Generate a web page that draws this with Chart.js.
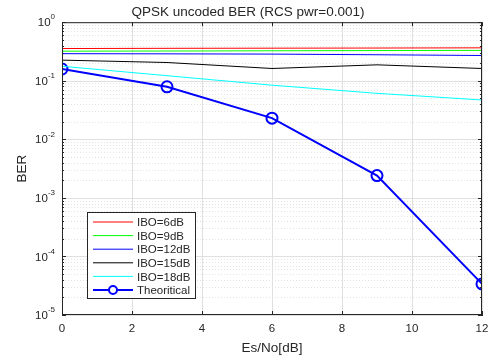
<!DOCTYPE html>
<html>
<head>
<meta charset="utf-8">
<script src="https://cdn.jsdelivr.net/npm/chart.js@4.4.1/dist/chart.umd.min.js"></script>
<style>
    html, body { margin: 0; padding: 0; background: #fff; }
    #wrap { width: 491px; height: 356px; }
</style>
</head>
<body>
<div id="wrap"><canvas id="berChart" width="491" height="356"></canvas></div>
<script>
// Data
const esNo = [0, 3, 6, 9, 12];
const ibo6 = [0.355, 0.358, 0.36, 0.362, 0.365];
const ibo9 = [0.32, 0.322, 0.325, 0.328, 0.33];
const ibo12 = [0.29, 0.288, 0.285, 0.278, 0.27];
const ibo15 = [0.225, 0.205, 0.162, 0.187, 0.162];
const ibo18 = [0.177, 0.122, 0.084, 0.061, 0.047];
const theory = [0.1587, 0.0789, 0.0230, 0.0024, 3.4e-5];
const yDecades = [0, -1, -2, -3, -4, -5];
const xTicks = [0, 2, 4, 6, 8, 10, 12];

const FONT = '"Liberation Sans", Arial, sans-serif';
const INK = '#262626';
const pts = arr => arr.map((v, i) => ({ x: esNo[i], y: v }));

const plainLine = (label, data, color) => ({
    label: label,
    data: pts(data),
    borderColor: color,
    backgroundColor: color,
    borderWidth: 1,
    pointRadius: 0,
    tension: 0
});

// Log grid (solid decades, dotted minors) drawn under the data
const gridPlugin = {
    id: 'logGrid',
    beforeDatasetsDraw(chart) {
        const ctx = chart.ctx;
        const a = chart.chartArea;
        const y = chart.scales.y;
        ctx.save();
        ctx.lineWidth = 1;
        yDecades.forEach(k => {
            if (k === -5) return;
            for (let m = 2; m <= 9; m++) {
                const py = Math.round(y.getPixelForValue(m * Math.pow(10, k - 1))) + 0.5;
                ctx.strokeStyle = '#e3e3e3';
                ctx.setLineDash([1, 2]);
                ctx.beginPath();
                ctx.moveTo(a.left, py);
                ctx.lineTo(a.right, py);
                ctx.stroke();
                // small inward ticks
                ctx.setLineDash([]);
                ctx.strokeStyle = INK;
                ctx.beginPath();
                ctx.moveTo(a.left, py); ctx.lineTo(a.left + 2, py);
                ctx.moveTo(a.right, py); ctx.lineTo(a.right - 2, py);
                ctx.stroke();
            }
        });
        ctx.setLineDash([]);
        yDecades.forEach(k => {
            const py = Math.round(y.getPixelForValue(Math.pow(10, k))) + 0.5;
            ctx.strokeStyle = '#e0e0e0';
            ctx.beginPath();
            ctx.moveTo(a.left, py);
            ctx.lineTo(a.right, py);
            ctx.stroke();
            ctx.strokeStyle = INK;
            ctx.beginPath();
            ctx.moveTo(a.left, py); ctx.lineTo(a.left + 4, py);
            ctx.moveTo(a.right, py); ctx.lineTo(a.right - 4, py);
            ctx.stroke();
        });
        const x = chart.scales.x;
        xTicks.forEach(v => {
            const px = Math.round(x.getPixelForValue(v)) + 0.5;
            ctx.strokeStyle = INK;
            ctx.beginPath();
            ctx.moveTo(px, a.bottom); ctx.lineTo(px, a.bottom - 4);
            ctx.moveTo(px, a.top); ctx.lineTo(px, a.top + 4);
            ctx.stroke();
        });
        ctx.restore();
    }
};

// Superscript tick labels, frame and legend box inside plot
const decorPlugin = {
    id: 'decor',
    afterDraw(chart) {
        const ctx = chart.ctx;
        const y = chart.scales.y;
        const a = chart.chartArea;
        ctx.save();
        ctx.strokeStyle = INK;
        ctx.lineWidth = 1;
        ctx.strokeRect(a.left + 0.5, a.top + 0.5, a.right - a.left - 1, a.bottom - a.top - 1);

        ctx.fillStyle = INK;
        yDecades.forEach(k => {
            const py = y.getPixelForValue(Math.pow(10, k));
            const exp = String(k);
            ctx.font = '8px ' + FONT;
            const ew = ctx.measureText(exp).width;
            ctx.textAlign = 'right';
            ctx.textBaseline = 'middle';
            ctx.fillText(exp, a.left - 7, py - 5);
            ctx.font = '11.5px ' + FONT;
            ctx.fillText('10', a.left - 7 - ew, py + 1);
        });

        // Legend
        const lx = 87, ly = 212, lw = 108, lh = 86;
        ctx.fillStyle = '#fff';
        ctx.fillRect(lx, ly, lw, lh);
        ctx.strokeStyle = INK;
        ctx.lineWidth = 1;
        ctx.strokeRect(lx + 0.5, ly + 0.5, lw, lh);
        ctx.font = '11.5px ' + FONT;
        ctx.textAlign = 'left';
        ctx.textBaseline = 'middle';
        chart.data.datasets.forEach((ds, i) => {
            const cy = ly + 10 + i * 13.6;
            ctx.strokeStyle = ds.borderColor;
            ctx.lineWidth = ds.borderWidth;
            ctx.beginPath();
            ctx.moveTo(lx + 6, cy);
            ctx.lineTo(lx + 46, cy);
            ctx.stroke();
            if (ds.pointRadius > 0) {
                ctx.beginPath();
                ctx.arc(lx + 26, cy, 4, 0, Math.PI * 2);
                ctx.fillStyle = '#fff';
                ctx.fill();
                ctx.stroke();
            }
            ctx.fillStyle = INK;
            ctx.fillText(ds.label, lx + 50, cy + 1);
        });
        ctx.restore();
    }
};

new Chart(document.getElementById('berChart'), {
    type: 'line',
    data: {
        datasets: [
            plainLine('IBO=6dB', ibo6, '#ff0000'),
            plainLine('IBO=9dB', ibo9, '#00ff00'),
            plainLine('IBO=12dB', ibo12, '#0000ff'),
            plainLine('IBO=15dB', ibo15, '#000000'),
            plainLine('IBO=18dB', ibo18, '#00ffff'),
            {
                label: 'Theoritical',
                data: pts(theory),
                borderColor: '#0000ff',
                backgroundColor: 'rgba(0,0,0,0)',
                borderWidth: 2,
                pointRadius: 5.5,
                pointBorderWidth: 2,
                pointBackgroundColor: 'rgba(0,0,0,0)',
                tension: 0
            }
        ]
    },
    options: {
        responsive: false,
        animation: false,
        layout: { padding: { left: 14, right: 9, top: 0, bottom: 0 } },
        plugins: {
            legend: { display: false },
            tooltip: { enabled: false },
            title: {
                display: true,
                text: 'QPSK uncoded BER (RCS pwr=0.001)',
                color: INK,
                font: { family: FONT, size: 13.5, weight: 'normal' },
                padding: { top: 4, bottom: 2 }
            }
        },
        scales: {
            x: {
                type: 'linear',
                min: 0, max: 12,
                ticks: {
                    stepSize: 2,
                    color: INK,
                    font: { family: FONT, size: 11.5 },
                    padding: 7
                },
                grid: { color: '#e0e0e0', drawTicks: false },
                border: { color: INK },
                title: {
                    display: true,
                    text: 'Es/No[dB]',
                    color: INK,
                    font: { family: FONT, size: 13.5 },
                    padding: { top: 0, bottom: 0 }
                },
                afterFit: scale => {
                    scale.height = 41;
                    scale.paddingLeft = 0;
                    scale.paddingRight = 0;
                }
            },
            y: {
                type: 'logarithmic',
                min: 1e-5, max: 1,
                ticks: { display: false },
                grid: { display: false },
                border: { color: INK },
                title: {
                    display: true,
                    text: 'BER',
                    color: INK,
                    font: { family: FONT, size: 13.5 },
                    padding: { top: 0, bottom: 0 }
                },
                afterFit: scale => { scale.width = 48; }
            }
        }
    },
    plugins: [gridPlugin, decorPlugin]
});
</script>
</body>
</html>
